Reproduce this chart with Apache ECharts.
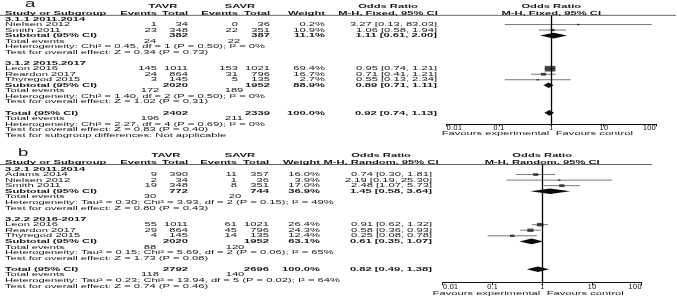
<!DOCTYPE html>
<html><head><meta charset="utf-8">
<script src="https://cdn.jsdelivr.net/npm/echarts@6/dist/echarts.min.js"></script>
<style>html,body{margin:0;padding:0;background:#fff}#c{width:677px;height:306px}</style>
</head><body><div id="c"></div>
<script>
// ---------- Panel a data (M-H, Fixed) ----------
const subgroupTitlesA = ["3.1.1 2011.2014", "3.1.2 2015.2017"];
const studiesA = ["Nielsen 2012", "Smith 2011", "Leon 2016", "Reardon 2017", "Thyregod 2015"];
const groupA = [0, 0, 1, 1, 1];
const tavrEventsA = [1, 23, 145, 24, 3];
const tavrTotalA = [34, 348, 1011, 864, 145];
const savrEventsA = [0, 22, 153, 31, 5];
const savrTotalA = [36, 351, 1021, 796, 135];
const weightA = [0.2, 10.9, 69.4, 16.7, 2.7];
const orA = [3.27, 1.06, 0.95, 0.71, 0.55];
const loA = [0.13, 0.58, 0.74, 0.41, 0.13];
const hiA = [83.03, 1.94, 1.21, 1.21, 2.34];
// subtotals (index 0,1) and overall total (index 2)
const pooledTavrTotalA = [382, 2020, 2402];
const pooledSavrTotalA = [387, 1952, 2339];
const pooledWeightA = [11.1, 88.9, 100.0];
const pooledOrA = [1.11, 0.89, 0.92];
const pooledLoA = [0.61, 0.71, 0.74];
const pooledHiA = [2.00, 1.11, 1.13];
const totalEventsTavrA = [24, 172, 196];
const totalEventsSavrA = [22, 189, 211];
const hetA = ["Heterogeneity: Chi\u00b2 = 0.45, df = 1 (P = 0.50); I\u00b2 = 0%",
              "Heterogeneity: Chi\u00b2 = 1.40, df = 2 (P = 0.50); I\u00b2 = 0%",
              "Heterogeneity: Chi\u00b2 = 2.27, df = 4 (P = 0.69); I\u00b2 = 0%"];
const testA = ["Test for overall effect: Z = 0.34 (P = 0.73)",
               "Test for overall effect: Z = 1.02 (P = 0.31)",
               "Test for overall effect: Z = 0.83 (P = 0.40)"];
const subgroupTestA = "Test for subgroup differences: Not applicable";

// ---------- Panel b data (M-H, Random) ----------
const subgroupTitlesB = ["3.2.1 2011.2014", "3.2.2 2016-2017"];
const studiesB = ["Adams 2014", "Nielsen 2012", "Smith 2011", "Leon 2016", "Reardon 2017", "Thyregod 2015"];
const groupB = [0, 0, 0, 1, 1, 1];
const tavrEventsB = [9, 2, 19, 55, 29, 4];
const tavrTotalB = [390, 34, 348, 1011, 864, 145];
const savrEventsB = [11, 1, 8, 61, 45, 14];
const savrTotalB = [357, 36, 351, 1021, 796, 135];
const weightB = [16.0, 3.9, 17.0, 26.4, 24.3, 12.4];
const orB = [0.74, 2.19, 2.48, 0.91, 0.58, 0.25];
const loB = [0.30, 0.19, 1.07, 0.62, 0.36, 0.08];
const hiB = [1.81, 25.30, 5.73, 1.32, 0.93, 0.78];
const pooledTavrTotalB = [772, 2020, 2792];
const pooledSavrTotalB = [744, 1952, 2696];
const pooledWeightB = [36.9, 63.1, 100.0];
const pooledOrB = [1.45, 0.61, 0.82];
const pooledLoB = [0.58, 0.35, 0.49];
const pooledHiB = [3.64, 1.07, 1.38];
const totalEventsTavrB = [30, 88, 118];
const totalEventsSavrB = [20, 120, 140];
const hetB = ["Heterogeneity: Tau\u00b2 = 0.30; Chi\u00b2 = 3.93, df = 2 (P = 0.15); I\u00b2 = 49%",
              "Heterogeneity: Tau\u00b2 = 0.15; Chi\u00b2 = 5.69, df = 2 (P = 0.06); I\u00b2 = 65%",
              "Heterogeneity: Tau\u00b2 = 0.23; Chi\u00b2 = 13.94, df = 5 (P = 0.02); I\u00b2 = 64%"];
const testB = ["Test for overall effect: Z = 0.80 (P = 0.43)",
               "Test for overall effect: Z = 1.73 (P = 0.08)",
               "Test for overall effect: Z = 0.74 (P = 0.46)"];
const subgroupTestB = null;

// ---------- Axis tick labels ----------
const tickValues = [0.01, 0.1, 1, 10, 100];
const tickLabels = ["0.01", "0.1", "1", "10", "100"];
const favourLeft = "Favours experimental";
const favourRight = "Favours control";

// ---------- panel definitions (data refs + layout) ----------
const panels = [
  { letter: "a", method: "M-H, Fixed, 95% CI",
    titles: subgroupTitlesA, studies: studiesA, group: groupA,
    te: tavrEventsA, tt: tavrTotalA, se: savrEventsA, st: savrTotalA, w: weightA,
    or: orA, lo: loA, hi: hiA,
    ptt: pooledTavrTotalA, pst: pooledSavrTotalA, pw: pooledWeightA,
    por: pooledOrA, plo: pooledLoA, phi: pooledHiA,
    tet: totalEventsTavrA, tes: totalEventsSavrA, het: hetA, test: testA, sgTest: subgroupTestA,
    L: { row0: 13.5, rowH: 5.52, yMin: 0.33, yMax: 20.0, left: 446.5, width: 209.5,
         superY: 6.7, headY: 13.3, letterX: 25, letterY: 4.5, lineRight: 676, favY: 133,
         name: 5, tev: 157, ttot: 188, sev: 238, stot: 270, wt: 325, orR: 437,
         tavrC: 163, savrC: 240, orC: 388, teC: 150, seC: 234 } },
  { letter: "b", method: "M-H, Random, 95% CI",
    titles: subgroupTitlesB, studies: studiesB, group: groupB,
    te: tavrEventsB, tt: tavrTotalB, se: savrEventsB, st: savrTotalB, w: weightB,
    or: orB, lo: loB, hi: hiB,
    ptt: pooledTavrTotalB, pst: pooledSavrTotalB, pw: pooledWeightB,
    por: pooledOrB, plo: pooledLoB, phi: pooledHiB,
    tet: totalEventsTavrB, tes: totalEventsSavrB, het: hetB, test: testB, sgTest: subgroupTestB,
    L: { row0: 163.4, rowH: 5.57, yMin: 0.2, yMax: 21.4, left: 442.7, width: 199,
         superY: 155.5, headY: 162.3, letterX: 18, letterY: 153, lineRight: 652, favY: 293,
         name: 5, tev: 157, ttot: 188, sev: 237, stot: 269, wt: 320, orR: 432,
         tavrC: 166, savrC: 240, orC: 381, teC: 150, seC: 235 } }
];

// build row sequence for each panel
function buildRows(p) {
  const rows = []; let r = 1;
  p.titles.forEach((t, g) => {
    rows.push({ kind: "title", r: r++, g });
    p.studies.forEach((s, i) => { if (p.group[i] === g) rows.push({ kind: "study", r: r++, i }); });
    rows.push({ kind: "pooled", r: r++, k: g, label: "Subtotal (95% CI)" });
    rows.push({ kind: "events", r: r++, k: g });
    rows.push({ kind: "het", r: r++, k: g });
    rows.push({ kind: "test", r: r++, k: g });
    r++; // blank
  });
  const k = p.titles.length;
  rows.push({ kind: "pooled", r: r++, k, label: "Total (95% CI)" });
  rows.push({ kind: "events", r: r++, k });
  rows.push({ kind: "het", r: r++, k });
  rows.push({ kind: "test", r: r++, k });
  if (p.sgTest) rows.push({ kind: "sg", r: r++ });
  return rows;
}
panels.forEach(p => p.rows = buildRows(p));

// text horizontal scale (reference text is horizontally stretched)
const FONT = "Liberation Sans";
const FS = 6;
const mctx = document.createElement("canvas").getContext("2d");
mctx.font = FS + "px \"" + FONT + "\"";
const SX = 260 / mctx.measureText(hetA[0]).width;
const SQ = 0.68; // square size factor

const chart = echarts.init(document.getElementById("c"), null, { renderer: "canvas", width: 677, height: 306 });

const grids = [], xAxes = [], yAxes = [], series = [];
panels.forEach((p, pi) => {
  const L = p.L;
  grids.push({ left: L.left, width: L.width, top: L.row0 + L.yMin * L.rowH, height: (L.yMax - L.yMin) * L.rowH, containLabel: false });
  xAxes.push({ type: "log", logBase: 10, min: 0.01, max: 100, gridIndex: pi,
    axisLine: { show: true, lineStyle: { color: "#111", width: 1 } },
    axisTick: { show: true, length: 2.5, lineStyle: { color: "#111" } },
    splitLine: { show: false }, minorTick: { show: false },
    axisLabel: { fontSize: 7, fontFamily: "DejaVu Sans", color: "#222", margin: 1, lineHeight: 7,
      alignMinLabel: "left", alignMaxLabel: "right",
      formatter: v => { const i = tickValues.findIndex(t => Math.abs(Math.log10(t) - Math.log10(v)) < 1e-6); return i >= 0 ? tickLabels[i] : ""; } } });
  yAxes.push({ type: "value", gridIndex: pi, inverse: true, min: L.yMin, max: L.yMax, show: false });

  const studyRows = p.rows.filter(x => x.kind === "study");
  const pooledRows = p.rows.filter(x => x.kind === "pooled");
  // CI whiskers
  series.push({ type: "custom", xAxisIndex: pi, yAxisIndex: pi, silent: true,
    data: studyRows.map(x => [p.lo[x.i], p.hi[x.i], x.r]),
    encode: { x: [0, 1], y: 2 },
    renderItem: (params, api) => {
      const a = api.coord([api.value(0), api.value(2)]);
      const b = api.coord([api.value(1), api.value(2)]);
      return { type: "line", shape: { x1: a[0], y1: a[1], x2: b[0], y2: b[1] }, style: { stroke: "#6a6a6a", lineWidth: 0.9 } };
    },
    markLine: { silent: true, symbol: "none", label: { show: false },
      lineStyle: { color: "#000", width: 1.3, type: "solid" }, data: [{ xAxis: 1 }] } });
  // weight squares
  series.push({ type: "scatter", xAxisIndex: pi, yAxisIndex: pi, silent: true, symbol: "rect",
    data: studyRows.map(x => [p.or[x.i], x.r, p.w[x.i]]),
    symbolSize: v => { const s = Math.max(SQ * Math.sqrt(v[2]), 1.4); return [s * SX, s]; },
    itemStyle: { color: "#1e1e1e" } });
  // pooled diamonds
  series.push({ type: "custom", xAxisIndex: pi, yAxisIndex: pi, silent: true,
    data: pooledRows.map(x => [p.por[x.k], p.plo[x.k], p.phi[x.k], x.r]),
    encode: { x: [0, 1, 2], y: 3 },
    renderItem: (params, api) => {
      const row = api.value(3);
      const c = api.coord([api.value(0), row]);
      const l = api.coord([api.value(1), row]);
      const r = api.coord([api.value(2), row]);
      const h = 2.8;
      return { type: "polygon", shape: { points: [[l[0], c[1]], [c[0], c[1] - h], [r[0], c[1]], [c[0], c[1] + h]] }, style: { fill: "#0a0a0a" } };
    } });
});

chart.setOption({ animation: false, backgroundColor: "#fff", grid: grids, xAxis: xAxes, yAxis: yAxes, series });

// ---------- table text ----------
const g = [];
function T(text, x, y, align, bold, size) {
  g.push({ type: "text", x, y, scaleX: SX, silent: true,
    style: { text: String(text), fontSize: size || FS, fontFamily: FONT, fontWeight: bold ? "bold" : "normal",
      fill: "#151515", align: align || "left", verticalAlign: "middle" } });
}
const f1 = v => v.toFixed(1) + "%";
const f2 = v => v.toFixed(2);
const ci = (o, l, h) => f2(o) + " [" + f2(l) + ", " + f2(h) + "]";

panels.forEach((p, pi) => {
  const L = p.L;
  const Y = r => L.row0 + r * L.rowH;
  const x1 = chart.convertToPixel({ xAxisIndex: pi }, 1);
  // header line
  g.push({ type: "line", silent: true, shape: { x1: 0, y1: L.row0 + L.yMin * L.rowH, x2: L.lineRight, y2: L.row0 + L.yMin * L.rowH }, style: { stroke: "#666", lineWidth: 1 } });
  T(p.letter, L.letterX, L.letterY, "left", false, 10);
  T("TAVR", L.tavrC, L.superY, "center", true);
  T("SAVR", L.savrC, L.superY, "center", true);
  T("Odds Ratio", L.orC, L.superY, "center", true);
  T("Odds Ratio", x1, L.superY, "center", true);
  T("Study or Subgroup", L.name, L.headY, "left", true);
  T("Events", L.tev, L.headY, "right", true);
  T("Total", L.ttot, L.headY, "right", true);
  T("Events", L.sev, L.headY, "right", true);
  T("Total", L.stot, L.headY, "right", true);
  T("Weight", L.wt, L.headY, "right", true);
  T(p.method, L.orC, L.headY, "center", true);
  T(p.method, x1, L.headY, "center", true);
  p.rows.forEach(x => {
    const y = Y(x.r);
    if (x.kind === "title") T(p.titles[x.g], L.name, y, "left", true);
    else if (x.kind === "study") {
      const i = x.i;
      T(p.studies[i], L.name, y, "left", false);
      T(p.te[i], L.tev, y, "right"); T(p.tt[i], L.ttot, y, "right");
      T(p.se[i], L.sev, y, "right"); T(p.st[i], L.stot, y, "right");
      T(f1(p.w[i]), L.wt, y, "right");
      T(ci(p.or[i], p.lo[i], p.hi[i]), L.orR, y, "right");
    } else if (x.kind === "pooled") {
      const k = x.k;
      T(x.label, L.name, y, "left", true);
      T(p.ptt[k], L.ttot, y, "right", true); T(p.pst[k], L.stot, y, "right", true);
      T(f1(p.pw[k]), L.wt, y, "right", true);
      T(ci(p.por[k], p.plo[k], p.phi[k]), L.orR, y, "right", true);
    } else if (x.kind === "events") {
      T("Total events", L.name, y, "left");
      T(p.tet[x.k], L.teC, y, "center"); T(p.tes[x.k], L.seC, y, "center");
    } else if (x.kind === "het") T(p.het[x.k], L.name, y, "left");
    else if (x.kind === "test") T(p.test[x.k], L.name, y, "left");
    else if (x.kind === "sg") T(p.sgTest, L.name, y, "left");
  });
  T(favourLeft, x1 - 2, L.favY, "right");
  T(favourRight, x1 + 4.5, L.favY, "left");
});
chart.setOption({ graphic: { elements: g } });
</script>
</body></html>
